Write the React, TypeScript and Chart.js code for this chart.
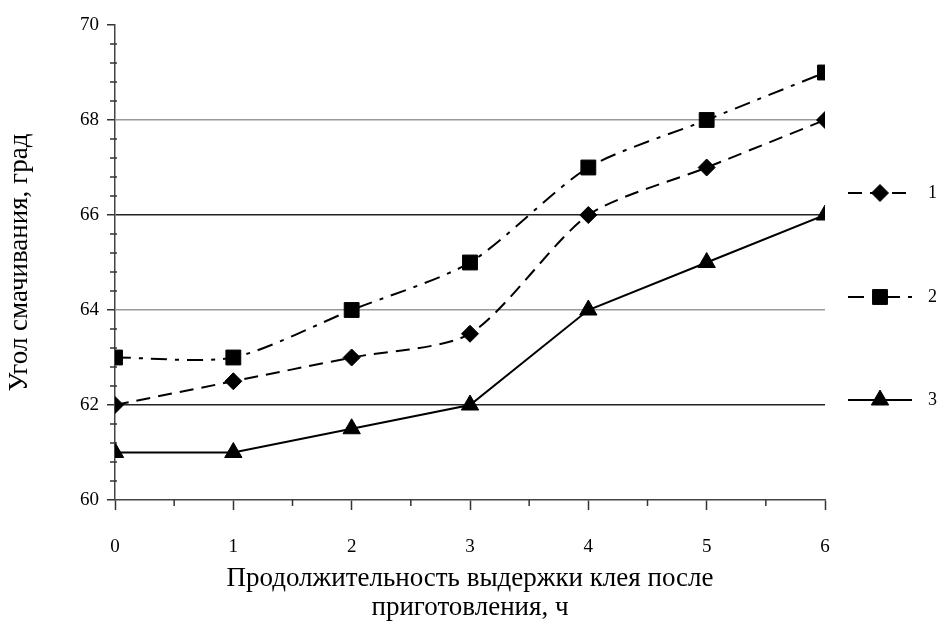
import React, { useEffect, useRef } from "react";
import { Chart, registerables } from "chart.js";

Chart.register(...registerables);

const hours = [0, 1, 2, 3, 4, 5, 6];
const series1 = [62, 62.5, 63, 63.5, 66, 67, 68];
const series2 = [63, 63, 64, 65, 67, 68, 69];
const series3 = [61, 61, 61.5, 62, 64, 65, 66];
const seriesLabels = ["1", "2", "3"];
const yTitle = "Угол смачивания, град";
const xTitle = ["Продолжительность выдержки клея после", "приготовления, ч"];

const FONT = "'Liberation Serif', 'Times New Roman', serif";

const minorTicksPlugin = {
  id: "minorTicks",
  afterDraw(chart: any) {
    const { ctx } = chart;
    const x = chart.scales.x;
    const y = chart.scales.y;
    ctx.save();
    ctx.strokeStyle = "#333";
    ctx.lineWidth = 1.5;
    for (let i = 0; i <= 25; i++) {
      const v = 60 + i * 0.4;
      if (i % 5 === 0) continue;
      const py = y.getPixelForValue(v);
      ctx.beginPath();
      ctx.moveTo(x.left - 5, py);
      ctx.lineTo(x.left + 2, py);
      ctx.stroke();
    }
    for (let i = 0; i < 6; i++) {
      const px = x.getPixelForValue(i + 0.5);
      ctx.beginPath();
      ctx.moveTo(px, y.bottom);
      ctx.lineTo(px, y.bottom + 6);
      ctx.stroke();
    }
    ctx.restore();
  },
};

function drawMarker(ctx: CanvasRenderingContext2D, style: string, r: number, x: number, y: number) {
  ctx.beginPath();
  if (style === "rect") {
    const s = r * Math.SQRT1_2;
    ctx.rect(x - s, y - s, 2 * s, 2 * s);
  } else if (style === "rectRot") {
    ctx.moveTo(x - r, y);
    ctx.lineTo(x, y - r);
    ctx.lineTo(x + r, y);
    ctx.lineTo(x, y + r);
    ctx.closePath();
  } else {
    const a = (2 * Math.PI) / 3;
    for (let k = 0; k < 3; k++) {
      const ang = k * a;
      const px = x + Math.sin(ang) * r;
      const py = y - Math.cos(ang) * r;
      if (k === 0) ctx.moveTo(px, py);
      else ctx.lineTo(px, py);
    }
    ctx.closePath();
  }
  ctx.fill();
  ctx.stroke();
}

const legendPlugin = {
  id: "customLegend",
  afterDraw(chart: any) {
    const { ctx } = chart;
    const ys = [193, 297, 400];
    const x0 = 848;
    const x1 = 912;
    chart.data.datasets.forEach((ds: any, i: number) => {
      const yy = ys[i];
      ctx.save();
      ctx.strokeStyle = "#000";
      ctx.lineWidth = 2;
      ctx.setLineDash(ds.borderDash || []);
      ctx.beginPath();
      ctx.moveTo(x0, yy);
      ctx.lineTo(x1, yy);
      ctx.stroke();
      ctx.setLineDash([]);
      ctx.fillStyle = "#000";
      ctx.lineWidth = 1;
      const el = chart.getDatasetMeta(i).data[0];
      if (el) {
        const opts = el.options;
        drawMarker(ctx, opts.pointStyle, opts.radius, (x0 + x1) / 2, yy);
      }
      ctx.font = `18px ${FONT}`;
      ctx.textBaseline = "middle";
      ctx.textAlign = "left";
      ctx.fillText(seriesLabels[i], 928, yy);
      ctx.restore();
    });
  },
};

function gridColor(v: number) {
  if (Math.abs(v - 62) < 1e-6 || Math.abs(v - 66) < 1e-6) return "#222";
  if (Math.abs(v - 64) < 1e-6 || Math.abs(v - 68) < 1e-6) return "#999";
  return "rgba(0,0,0,0)";
}

export default function App() {
  const ref = useRef<HTMLCanvasElement>(null);
  useEffect(() => {
    if (!ref.current) return;
    const mk = (data: number[]) => hours.map((h, i) => ({ x: h, y: data[i] }));
    const chart = new Chart(ref.current, {
      type: "line",
      data: {
        datasets: [
          {
            label: seriesLabels[0],
            data: mk(series1),
            borderColor: "#000",
            backgroundColor: "#000",
            borderWidth: 2,
            borderDash: [14, 8],
            pointStyle: "rectRot",
            pointRadius: 8.5,
            pointBorderWidth: 1,
            tension: 0.25,
          },
          {
            label: seriesLabels[1],
            data: mk(series2),
            borderColor: "#000",
            backgroundColor: "#000",
            borderWidth: 2,
            borderDash: [16, 8, 4, 8],
            pointStyle: "rect",
            pointRadius: 10.5,
            pointBorderWidth: 1,
            tension: 0.25,
          },
          {
            label: seriesLabels[2],
            data: mk(series3),
            borderColor: "#000",
            backgroundColor: "#000",
            borderWidth: 2,
            pointStyle: "triangle",
            pointRadius: 10,
            pointBorderWidth: 1,
            tension: 0,
          },
        ],
      },
      options: {
        animation: false,
        responsive: false,
        maintainAspectRatio: false,
        layout: { padding: { top: 25, right: 116, left: 0, bottom: 0 } },
        plugins: { legend: { display: false }, tooltip: { enabled: false } },
        scales: {
          x: {
            type: "linear",
            min: 0,
            max: 6,
            afterFit: (s: any) => {
              s.height = 125;
            },
            ticks: {
              stepSize: 1,
              color: "#000",
              font: { family: FONT, size: 19 },
              padding: 26,
            },
            border: { color: "#444", width: 1.5 },
            grid: {
              drawOnChartArea: false,
              tickLength: 10,
              tickColor: "#333",
              tickWidth: 1.5,
            },
            title: {
              display: true,
              text: xTitle,
              color: "#000",
              font: { family: FONT, size: 27, lineHeight: 1.07 },
              padding: { top: 0, bottom: 3 },
            },
          },
          y: {
            min: 60,
            max: 70,
            afterFit: (s: any) => {
              s.width = 115;
            },
            ticks: {
              stepSize: 2,
              color: "#000",
              font: { family: FONT, size: 19 },
              padding: 8,
            },
            border: { color: "#444", width: 1.5 },
            grid: {
              color: (c: any) => gridColor(c.tick.value),
              lineWidth: 1.5,
              tickLength: 8,
              tickColor: "#333",
              tickWidth: 1.5,
            },
            title: {
              display: true,
              text: yTitle,
              color: "#000",
              font: { family: FONT, size: 27, lineHeight: 1.07 },
              padding: { top: 5, bottom: 0 },
            },
          },
        },
      },
      plugins: [minorTicksPlugin, legendPlugin],
    } as any);
    return () => chart.destroy();
  }, []);
  return (
    <div style={{ position: "fixed", left: 0, top: 0, width: 941, height: 625, background: "#fff" }}>
      <canvas ref={ref} width={941} height={625} style={{ display: "block" }} />
    </div>
  );
}
